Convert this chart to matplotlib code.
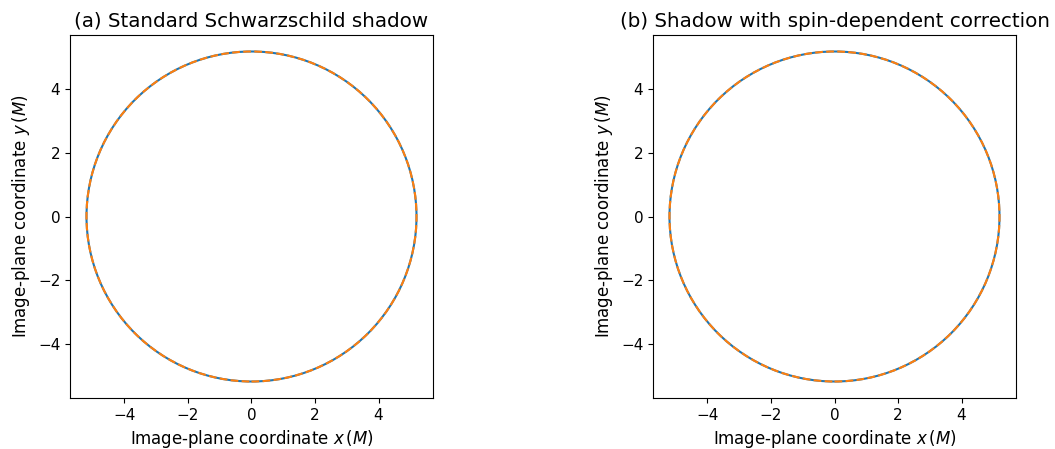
import numpy as np
import matplotlib
matplotlib.use("Agg")
from matplotlib import pyplot as plt
from matplotlib.patches import Circle

# shadow radii (units of M)
panel_titles = ["(a) Standard Schwarzschild shadow",
                "(b) Shadow with spin-dependent correction"]
r_reference = [5.196, 5.196]   # solid blue curve
r_model = [5.196, 5.196]       # dashed orange curve
ticks = [-4, -2, 0, 2, 4]

plt.rcParams["font.size"] = 11
plt.rcParams["axes.labelsize"] = 12
plt.rcParams["axes.titlesize"] = 14.3

fig = plt.figure(figsize=(10.55, 4.49), dpi=100)
W, H = 1055, 449
lefts = [70, 653]

for i in range(2):
    ax = fig.add_axes([lefts[i] / W, 51 / H, 363 / W, 363 / H])
    ax.add_patch(Circle((0, 0), r_reference[i], fill=False, edgecolor="C0", lw=1.5))
    ax.add_patch(Circle((0, 0), r_model[i], fill=False, edgecolor="C1", lw=1.5, ls="--"))
    lim = 1.1 * max(r_reference[i], r_model[i])
    ax.set_xlim(-lim, lim)
    ax.set_ylim(-lim, lim)
    ax.set_aspect("equal")
    ax.set_xticks(ticks)
    ax.set_yticks(ticks)
    ax.set_title(panel_titles[i])
    ax.set_xlabel(r"Image-plane coordinate $x\,(M)$")
    ax.set_ylabel(r"Image-plane coordinate $y\,(M)$")

fig.savefig("out.png", dpi=100)
